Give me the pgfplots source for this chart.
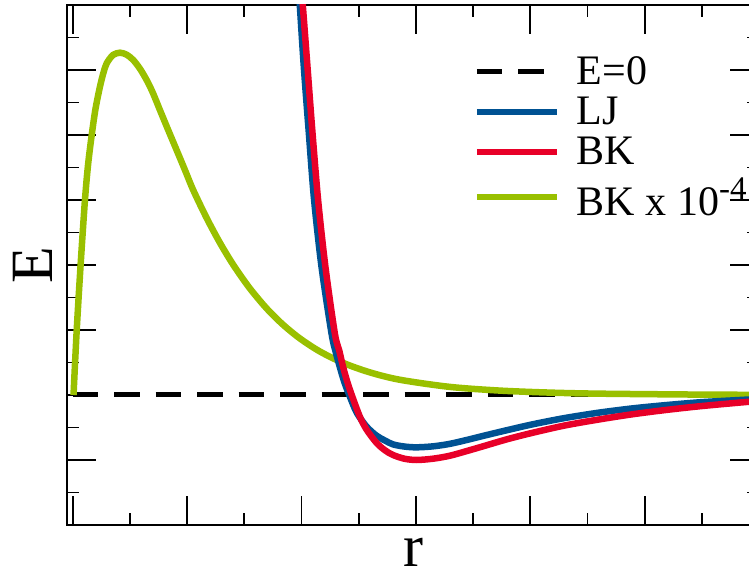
\documentclass[border=0pt]{standalone}
\usepackage{fontspec}
\setmainfont{Liberation Serif}
\usepackage{pgfplots}
\pgfplotsset{compat=1.18}
\definecolor{ljblue}{RGB}{0,82,147}
\definecolor{bkred}{RGB}{232,0,40}
\definecolor{bkgreen}{RGB}{153,192,0}
\begin{document}
\begin{tikzpicture}
\begin{axis}[
  at={(0pt,0pt)}, anchor=south west,
  scale only axis, width=692pt, height=520pt,
  xmin=-0.049, xmax=6, ymin=-2, ymax=6,
  xtick={0,...,6}, ytick={-2,...,6},
  minor x tick num=1, minor y tick num=1,
  xticklabels={}, yticklabels={},
  tick align=inside,
  major tick length=29pt, minor tick length=12pt,
  every tick/.style={black, line width=1.8pt},
  axis line style={line width=2pt},
  xlabel={r}, ylabel={E},
  label style={font=\fontsize{60}{60}\selectfont},
  xlabel style={at={(axis description cs:0.5,-0.052)}, anchor=center},
  ylabel style={at={(axis description cs:-0.049,0.5)}, anchor=center},
  legend style={draw=none, fill=none, at={(axis description cs:0.588,0.9)}, anchor=north west,
    inner sep=0pt, outer sep=0pt, font=\fontsize{42}{42}\selectfont,
    row sep=11pt, column sep=17pt, nodes={inner sep=0pt}},
  legend cell align=left,
  legend image code/.code={\draw[#1] (0pt,0pt) -- (80pt,0pt);},
]
\addlegendimage{black, line width=5pt, dash pattern=on 25.5pt off 16pt}
\addlegendentry{E=0}
\addlegendimage{ljblue, line width=5.5pt}
\addlegendentry{LJ}
\addlegendimage{bkred, line width=5.5pt}
\addlegendentry{BK}
\addlegendimage{bkgreen, line width=6pt}
\addlegendentry{BK x 10\raisebox{16pt}{\fontsize{33}{33}\selectfont -4}}

\addplot[forget plot, black, line width=5pt, dash pattern=on 25.5pt off 16pt] coordinates {(0,0) (6,0)};

\addplot[forget plot, bkgreen, line width=6.5pt, smooth] coordinates {
(0.008,0) (0.036,1.0) (0.071,2.031) (0.108,3.0) (0.135,3.54) (0.167,4.0)
(0.200,4.40) (0.239,4.743) (0.270,4.96) (0.298,5.103) (0.353,5.231)
(0.414,5.266) (0.472,5.236) (0.530,5.154) (0.590,5.016) (0.647,4.846)
(0.700,4.655) (0.763,4.385) (0.830,4.100) (0.909,3.769) (0.980,3.47)
(1.054,3.154) (1.171,2.725) (1.287,2.344) (1.404,2.004) (1.548,1.643)
(1.698,1.328) (1.838,1.084) (1.986,0.871) (2.160,0.671) (2.362,0.496)
(2.597,0.349) (2.859,0.235) (3.296,0.125) (3.733,0.068) (4.170,0.037)
(4.606,0.0204) (5.480,0.0063) (6.0,0.0031)
};

\addplot[forget plot, ljblue, line width=6.5pt, smooth] coordinates {
(1.971,6.4) (1.986,6.0) (2.021,5.05) (2.065,4.03) (2.111,3.0) (2.176,1.97)
(2.263,0.95) (2.300,0.66) (2.335,0.435) (2.375,0.20) (2.418,0) (2.483,-0.27)
(2.569,-0.485) (2.656,-0.625) (2.730,-0.70) (2.801,-0.76) (2.900,-0.793)
(3.005,-0.805) (3.150,-0.79) (3.296,-0.752) (3.450,-0.69) (3.587,-0.63)
(3.800,-0.54) (4.024,-0.45) (4.300,-0.355) (4.606,-0.27) (4.900,-0.205)
(5.189,-0.155) (5.500,-0.11) (5.907,-0.07) (6.0,-0.064)
};

\addplot[forget plot, bkred, line width=6.5pt, smooth] coordinates {
(1.995,6.4) (2.012,6.0) (2.053,5.05) (2.097,4.03) (2.146,3.0) (2.210,1.97)
(2.292,0.95) (2.330,0.69) (2.364,0.435) (2.400,0.21) (2.440,0) (2.510,-0.33)
(2.569,-0.53) (2.656,-0.735) (2.730,-0.85) (2.801,-0.923) (2.900,-0.98)
(3.005,-1.0) (3.150,-0.98) (3.296,-0.935) (3.450,-0.86) (3.587,-0.79)
(3.800,-0.68) (4.024,-0.58) (4.300,-0.47) (4.606,-0.375) (4.900,-0.295)
(5.189,-0.23) (5.500,-0.17) (5.907,-0.105) (6.0,-0.095)
};
\end{axis}
\pgfresetboundingbox
\path[use as bounding box] (-67pt,-47pt) rectangle (682pt,525pt);
\end{tikzpicture}
\end{document}
